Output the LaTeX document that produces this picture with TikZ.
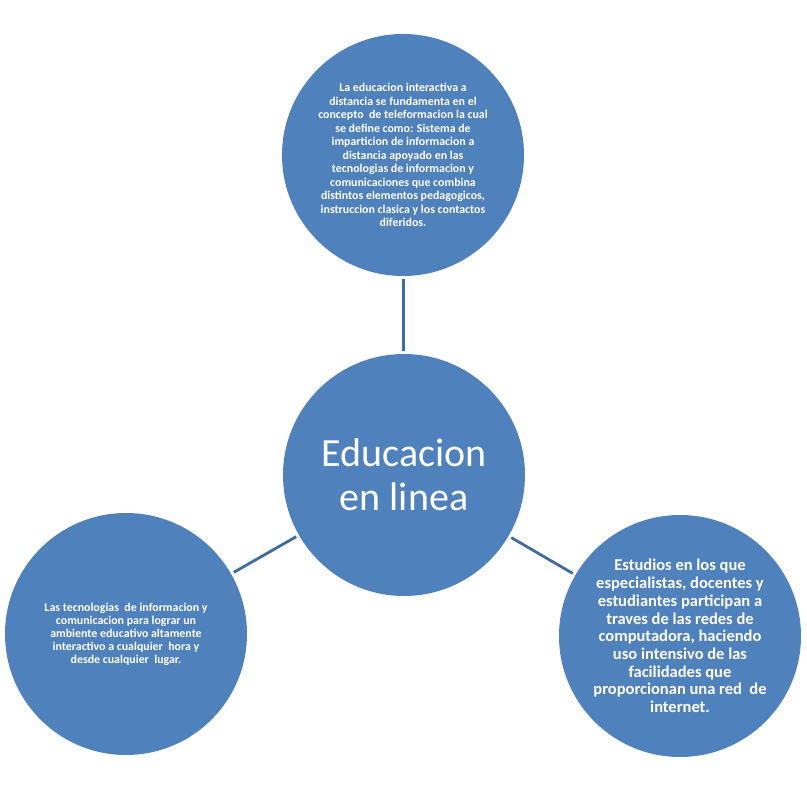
\documentclass[tikz,border=0pt]{standalone}
\usepackage{fontspec}
\setmainfont{Carlito}
\definecolor{circblue}{HTML}{4F81BD}
\definecolor{linkblue}{HTML}{3F6B9F}
\tikzset{
  bubble/.style={circle, fill=circblue, draw=none, minimum size=242pt, inner sep=0pt,
     text=white, align=center, font=\bfseries},
  link/.style={draw=linkblue, line width=2.8pt, shorten <=3pt, shorten >=3pt}
}
\begin{document}
\begin{tikzpicture}[x=1pt,y=-1pt]
\useasboundingbox (0,0) rectangle (807,791);
\node[bubble, font=\bfseries\fontsize{11.9}{13.5}\selectfont] (top) at (403,155)
 {La educacion interactiva a\\ distancia se fundamenta en el\\ concepto\ \ de teleformacion la cual\\ se define como: Sistema de\\ imparticion de informacion a\\ distancia apoyado en las\\ tecnologias de informacion y\\ comunicaciones que combina\\ distintos elementos pedagogicos,\\ instruccion clasica y los contactos\\ diferidos.};
\node[bubble, font=\fontsize{40}{44}\selectfont] (mid) at (404,475)
 {Educacion\\ en linea};
\node[bubble, font=\bfseries\fontsize{11.9}{13}\selectfont] (left) at (126,634)
 {Las tecnologias\ \ de informacion y\\ comunicacion para lograr un\\ ambiente educativo altamente\\ interactivo a cualquier\ \ hora y\\ desde cualquier\ \ lugar.};
\node[bubble, font=\bfseries\fontsize{16.5}{17.7}\selectfont] (right) at (680,636)
 {Estudios en los que\\ especialistas, docentes y\\ estudiantes participan a\\ traves de las redes de\\ computadora, haciendo\\ uso intensivo de las\\ facilidades que\\ proporcionan una red\ \ de\\ internet.};
\draw[link] (top) -- (mid);
\draw[link] (mid) -- (left);
\draw[link] (mid) -- (right);
\end{tikzpicture}
\end{document}
